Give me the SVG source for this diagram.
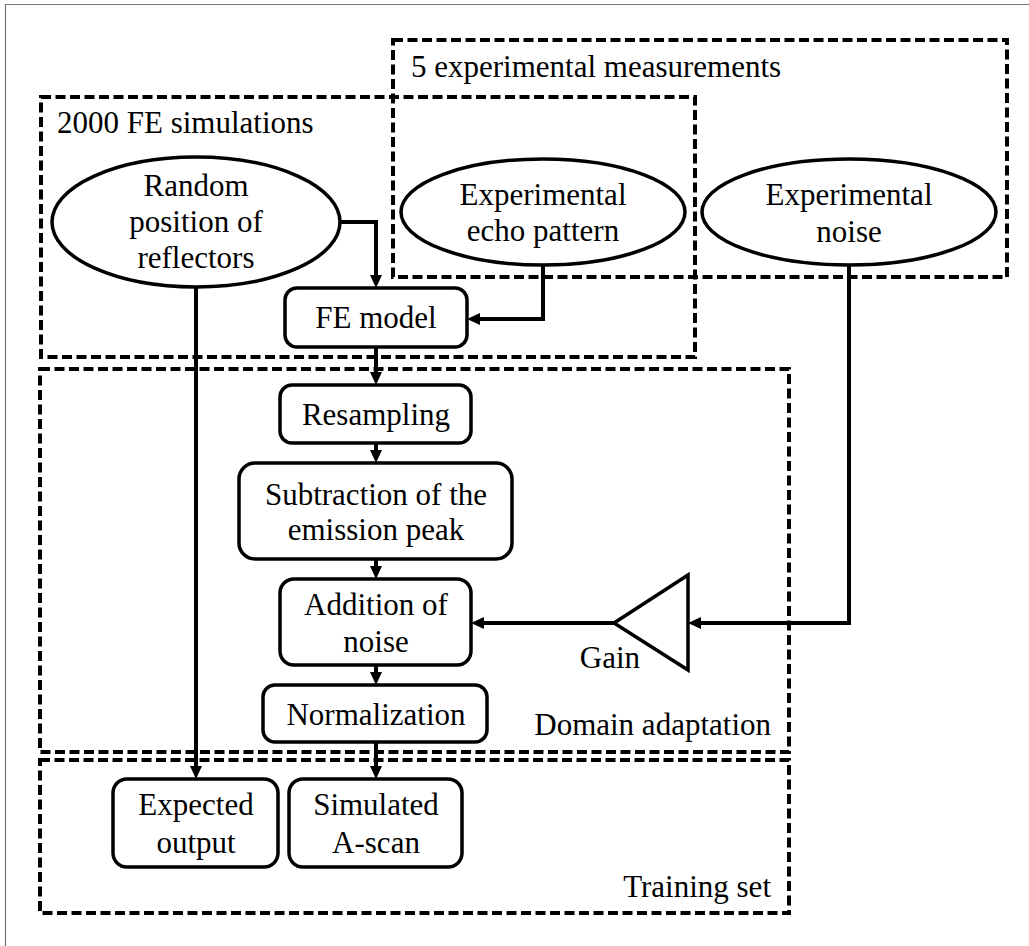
<svg xmlns="http://www.w3.org/2000/svg" width="1029" height="946" viewBox="0 0 1029 946" font-family="'Liberation Serif', 'DejaVu Serif', serif">
<style>
  text { font-family: 'Liberation Serif', 'DejaVu Serif', serif; font-size: 31px; fill: #000; }
  .c { text-anchor: middle; }
  .r { text-anchor: end; }
  .group { fill: none; stroke: #000; stroke-width: 4; stroke-dasharray: 10 4.5; }
  .node { fill: #fff; stroke: #000; stroke-width: 3.5; }
  .conn { fill: none; stroke: #000; stroke-width: 4; marker-end: url(#arrow); }
</style>
<defs>
  <marker id="arrow" markerUnits="userSpaceOnUse" markerWidth="14" markerHeight="13" refX="3" refY="6" orient="auto">
    <path d="M0,0 L13,6 L0,12 z" fill="#000"/>
  </marker>
</defs>
<rect width="1029" height="946" fill="#fff"/>
<path d="M5.5,946 V4.5 H1029" fill="none" stroke="#777" stroke-width="1.2"/>

<g id="group-experimental">
  <rect class="group" x="393" y="40" width="614" height="237"/>
  <text x="411" y="77">5 experimental measurements</text>
</g>
<g id="group-fe-simulations">
  <rect class="group" x="41" y="97" width="654" height="260"/>
  <text x="57" y="133">2000 FE simulations</text>
</g>
<g id="group-domain-adaptation">
  <rect class="group" x="40" y="369" width="749" height="383"/>
  <text class="r" x="771" y="735">Domain adaptation</text>
</g>
<g id="group-training-set">
  <rect class="group" x="40" y="760" width="749" height="153"/>
  <text class="r" x="771" y="897">Training set</text>
</g>

<g id="connectors">
  <path class="conn" d="M340,222 H376 V278"/>
  <path class="conn" d="M543,265 V319 H477"/>
  <path class="conn" d="M196,287 V769"/>
  <path class="conn" d="M376,347 V375"/>
  <path class="conn" d="M376,443 V453"/>
  <path class="conn" d="M376,559 V569"/>
  <path class="conn" d="M376,665 V675"/>
  <path class="conn" d="M376,742 V769"/>
  <path class="conn" d="M849,264 V623 H698"/>
  <path class="conn" d="M614,623 H481"/>
</g>

<g id="node-random-position">
  <ellipse class="node" cx="196" cy="222" rx="144" ry="65"/>
  <text class="c" x="196" y="196">Random</text>
  <text class="c" x="196" y="232">position of</text>
  <text class="c" x="196" y="268">reflectors</text>
</g>
<g id="node-echo-pattern">
  <ellipse class="node" cx="543" cy="212" rx="142" ry="53"/>
  <text class="c" x="543" y="205">Experimental</text>
  <text class="c" x="543" y="241">echo pattern</text>
</g>
<g id="node-noise">
  <ellipse class="node" cx="849" cy="212" rx="147" ry="53"/>
  <text class="c" x="849" y="205">Experimental</text>
  <text class="c" x="849" y="242">noise</text>
</g>
<g id="node-fe-model">
  <rect class="node" x="285" y="288" width="182" height="59" rx="12"/>
  <text class="c" x="376" y="328">FE model</text>
</g>
<g id="node-resampling">
  <rect class="node" x="280" y="385" width="191" height="58" rx="12"/>
  <text class="c" x="376" y="425">Resampling</text>
</g>
<g id="node-subtraction">
  <rect class="node" x="239" y="463" width="273" height="96" rx="16"/>
  <text class="c" x="376" y="505">Subtraction of the</text>
  <text class="c" x="376" y="540">emission peak</text>
</g>
<g id="node-addition">
  <rect class="node" x="280" y="579" width="191" height="86" rx="14"/>
  <text class="c" x="376" y="615">Addition of</text>
  <text class="c" x="376" y="652">noise</text>
</g>
<g id="node-normalization">
  <rect class="node" x="263" y="685" width="224" height="57" rx="12"/>
  <text class="c" x="376" y="725">Normalization</text>
</g>
<g id="node-gain">
  <polygon class="node" points="614,623 688,575 688,670"/>
  <text class="c" x="610" y="668">Gain</text>
</g>
<g id="node-expected-output">
  <rect class="node" x="113" y="779" width="165" height="88" rx="14"/>
  <text class="c" x="196" y="815">Expected</text>
  <text class="c" x="196" y="853">output</text>
</g>
<g id="node-simulated-ascan">
  <rect class="node" x="289" y="779" width="173" height="88" rx="14"/>
  <text class="c" x="376" y="815">Simulated</text>
  <text class="c" x="376" y="853">A-scan</text>
</g>
</svg>
